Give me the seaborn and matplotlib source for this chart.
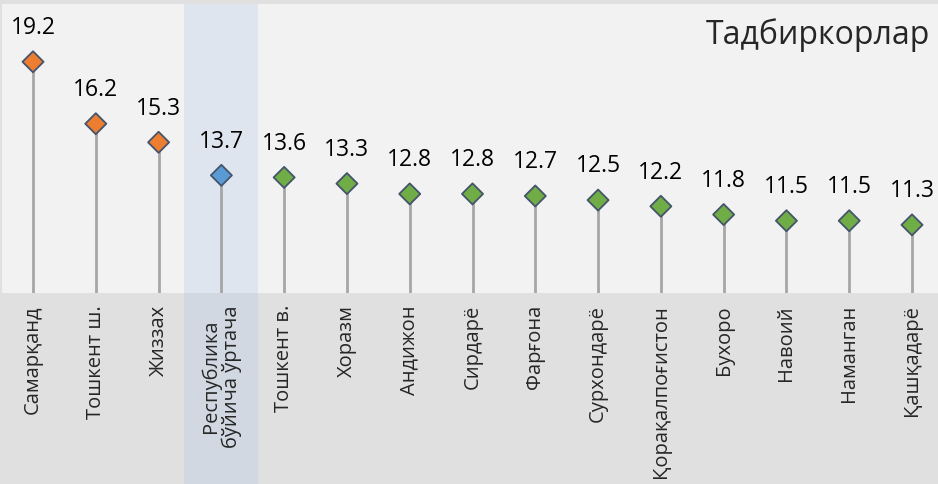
import matplotlib
matplotlib.use('Agg')
import matplotlib.pyplot as plt
import matplotlib.transforms as mtransforms
from matplotlib.patches import Rectangle
import seaborn as sns
import pandas as pd

# Маълумотлар
hududlar = ['Самарқанд', 'Тошкент ш.', 'Жиззах', 'Республика\nбўйича ўртача',
            'Тошкент в.', 'Хоразм', 'Андижон', 'Сирдарё', 'Фарғона', 'Сурхондарё',
            'Қорақалпоғистон', 'Бухоро', 'Навоий', 'Наманган', 'Қашқадарё']
qiymatlar = [19.2, 16.2, 15.3, 13.7, 13.6, 13.3, 12.8, 12.8, 12.7, 12.5,
             12.2, 11.8, 11.5, 11.5, 11.3]
guruhlar = ['top', 'top', 'top', 'avg'] + ['rest'] * 11
ranglar = {'top': '#ed7d31', 'avg': '#5b9bd5', 'rest': '#70ad47'}
sarlavha = 'Тадбиркорлар'

df = pd.DataFrame({'hudud': hududlar, 'qiymat': qiymatlar, 'guruh': guruhlar,
                   'x': range(len(hududlar))})

sns.set_theme(style='white')
plt.rcParams['font.family'] = ['Open Sans', 'DejaVu Sans']

fig = plt.figure(figsize=(9.38, 4.85), dpi=100)
fig.patch.set_facecolor('#e0e0e0')
ax = fig.add_axes([2 / 938, 191 / 485, 936 / 938, 289 / 485])
ax.set_facecolor('#f2f2f2')

ymin = 8
# poyalar
ax.vlines(df['x'], ymin, df['qiymat'], color='#a6a6a6', lw=2, zorder=2)

sns.scatterplot(data=df, x='x', y='qiymat', hue='guruh', palette=ranglar,
                marker='D', s=115, edgecolor='#44546a', linewidth=1.3,
                legend=False, zorder=3, ax=ax)

for _, r in df.iterrows():
    ax.annotate(f"{r['qiymat']:.1f}", (r['x'], r['qiymat']), xytext=(0, 25),
                textcoords='offset points', ha='center', va='center',
                fontsize=16.5, color='#000000')

# o'rtacha ustunini ajratish
tr = mtransforms.blended_transform_factory(ax.transData, ax.transAxes)
ax.add_patch(Rectangle((3 - 0.59, -0.7), 1.18, 1.7, transform=tr,
                       facecolor='#b4c7e7', alpha=0.3, edgecolor='none',
                       clip_on=False, zorder=0.5))

ax.set_xlim(-0.494, 14.414)
ax.set_ylim(ymin, 22)
ax.set_xticks(df['x'])
ax.set_xticklabels(hududlar, rotation=90, fontsize=14.5, ha='center', va='top',
                   multialignment='center', linespacing=1.0)
ax.tick_params(axis='x', length=0, pad=8)
ax.set_yticks([])
ax.set_xlabel('')
ax.set_ylabel('')
for s in ax.spines.values():
    s.set_visible(False)

fig.text(0.992, 1 - 35 / 485, sarlavha, ha='right', va='center', fontsize=23)

fig.savefig('out.png', dpi=100, facecolor=fig.get_facecolor())
